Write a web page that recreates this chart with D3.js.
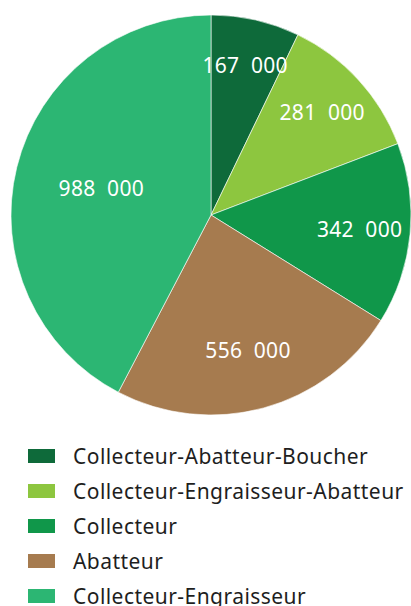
<!DOCTYPE html>
<html>
<head>
<meta charset="utf-8">
<script src="https://cdn.jsdelivr.net/npm/d3@7"></script>
<style>
  body { margin: 0; background: #fff; }
  text { font-family: "Noto Sans", sans-serif; }
</style>
</head>
<body>
<div id="chart"></div>
<script>
const categories = [
  "Collecteur-Abatteur-Boucher",
  "Collecteur-Engraisseur-Abatteur",
  "Collecteur",
  "Abatteur",
  "Collecteur-Engraisseur"
];
const values = [167000, 281000, 342000, 556000, 988000];
const colors = ["#0e6a3a", "#8dc63f", "#10974a", "#a67b4f", "#2cb673"];

const width = 411, height = 606;
const cx = 211, cy = 215, radius = 200;

const svg = d3.select("#chart").append("svg")
  .attr("width", width).attr("height", height);

const data = categories.map((c, i) => ({ name: c, value: values[i], color: colors[i] }));

const pie = d3.pie().value((d) => d.value).sort(null);
const arc = d3.arc().innerRadius(0).outerRadius(radius);

// label sits a bit outside the geometric centroid of each sector
function labelPos(d) {
  const a = d.endAngle - d.startAngle;
  const r = 1.16 * (4 * radius * Math.sin(a / 2)) / (3 * a);
  const m = (d.startAngle + d.endAngle) / 2;
  return [r * Math.sin(m), -r * Math.cos(m)];
}

const fmt = (v) => d3.format(",")(v).replace(/,/g, "\u00a0\u00a0");

const g = svg.append("g").attr("transform", `translate(${cx},${cy})`);
const arcs = pie(data);

g.selectAll("path").data(arcs).join("path")
  .attr("d", arc)
  .attr("fill", (d) => d.data.color)
  .attr("stroke", "#fff")
  .attr("stroke-width", 0.6);

g.selectAll("text.lbl").data(arcs).join("text")
  .attr("class", "lbl")
  .attr("transform", (d) => `translate(${labelPos(d)})`)
  .attr("text-anchor", "middle")
  .attr("dy", "0.36em")
  .attr("fill", "#fff")
  .attr("font-size", 21)
  .attr("letter-spacing", 0.3)
  .text((d) => fmt(d.data.value));

// legend
const legend = svg.append("g").attr("transform", "translate(28,456)");
const row = legend.selectAll("g").data(data).join("g")
  .attr("transform", (d, i) => `translate(0,${i * 35})`);
row.append("rect")
  .attr("x", 0).attr("y", -7)
  .attr("width", 27).attr("height", 14)
  .attr("fill", (d) => d.color);
row.append("text")
  .attr("x", 45).attr("dy", "0.36em")
  .attr("fill", "#1e1e1e")
  .attr("font-size", 21)
  .attr("letter-spacing", 0.45)
  .text((d) => d.name);
</script>
</body>
</html>
